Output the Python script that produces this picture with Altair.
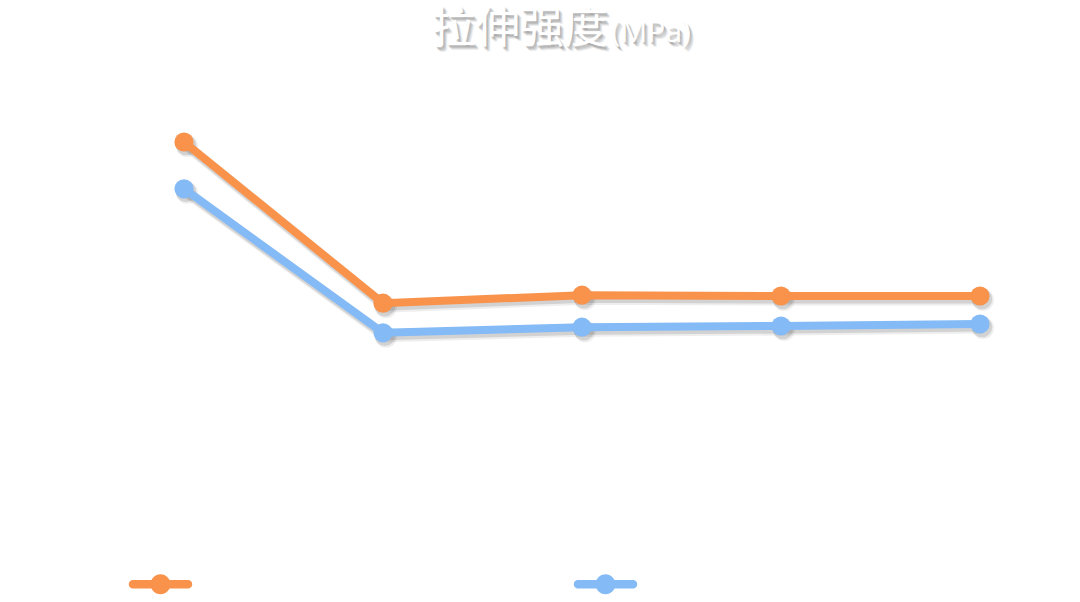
import altair as alt
import pandas as pd

categories = ["1", "2", "3", "4", "5"]
series_names = ["系列1", "系列2"]
orange_vals = [49.75, 29.6, 30.6, 30.5, 30.5]
blue_vals = [43.9, 25.9, 26.6, 26.75, 27.0]
colors = ["#F9924A", "#84BAF5"]
title_main = "拉伸强度"
title_unit = "(MPa)"

rows = []
for c, v in zip(categories, orange_vals):
    rows.append({"cat": c, "v": v, "series": series_names[0]})
for c, v in zip(categories, blue_vals):
    rows.append({"cat": c, "v": v, "series": series_names[1]})
df = pd.DataFrame(rows)

x = alt.X("cat:N", sort=categories,
          axis=alt.Axis(labelColor="white", title=None, domain=False, ticks=False, labelAngle=0))
y = alt.Y("v:Q", scale=alt.Scale(domain=[0, 60]),
          axis=alt.Axis(labelColor="white", title=None, domain=False, ticks=False, grid=False))

legend_path = ("M -0.873 -0.135 L 0.873 -0.135 A 0.135 0.135 0 0 1 0.873 0.135 "
               "L -0.873 0.135 A 0.135 0.135 0 0 1 -0.873 -0.135 Z "
               "M -0.317 0 A 0.317 0.317 0 1 1 0.317 0 A 0.317 0.317 0 1 1 -0.317 0 Z")

color = alt.Color("series:N", scale=alt.Scale(domain=series_names, range=colors),
                  legend=alt.Legend(orient="none", legendX=44.5, legendY=492.5,
                                    direction="horizontal", title=None,
                                    symbolType=legend_path, symbolSize=3969,
                                    symbolStrokeWidth=0, symbolOpacity=1,
                                    symbolFillColor="#888888",
                                    labelColor="white", labelFontSize=14,
                                    columnPadding=341))

base = alt.Chart(df)
shadow_layers = []
for dx, dy, op, sw, sz in [(3, 4, 0.10, 11, 480), (2, 3, 0.18, 9, 420)]:
    shadow_layers.append(base.mark_line(color="#555555", opacity=op, strokeWidth=sw,
                                        xOffset=dx, yOffset=dy).encode(x=x, y=y, detail="series:N"))
    shadow_layers.append(base.mark_circle(color="#555555", opacity=op, size=sz,
                                          xOffset=dx, yOffset=dy).encode(x=x, y=y, detail="series:N"))
line = base.mark_line(strokeWidth=8).encode(x=x, y=y, color=color)
pts = base.mark_circle(size=370, opacity=1).encode(x=x, y=y, color=color)

tdf = pd.DataFrame({"t": [title_main]})
udf = pd.DataFrame({"t": [title_unit]})

def title_layers(data, xpos, ypos, size, font):
    out = []
    for dx, dy, op in [(4, 5, 0.10), (3, 4, 0.15), (2, 3, 0.2), (1, 2, 0.2)]:
        out.append(alt.Chart(data).mark_text(align="left", baseline="alphabetic", fontSize=size,
                                             font=font, color="#666666", opacity=op,
                                             dx=dx, dy=dy).encode(
            text="t:N", x=alt.value(xpos), y=alt.value(ypos)))
    out.append(alt.Chart(data).mark_text(align="left", baseline="alphabetic", fontSize=size,
                                         font=font, color="white").encode(
        text="t:N", x=alt.value(xpos), y=alt.value(ypos)))
    return out

texts = title_layers(tdf, 347.5, -17, 44, "Noto Sans CJK SC") + \
        title_layers(udf, 527, -18, 30, "Open Sans")

chart = alt.layer(*shadow_layers, line, pts, *texts).properties(
    width=995, height=480,
    autosize=alt.AutoSizeParams(type="none"),
    padding={"left": 84.5, "top": 60, "right": 0.5, "bottom": 62},
    background="white",
).configure_view(stroke=None)

chart.save("out.html", embed_options={"renderer": "svg", "actions": False})
